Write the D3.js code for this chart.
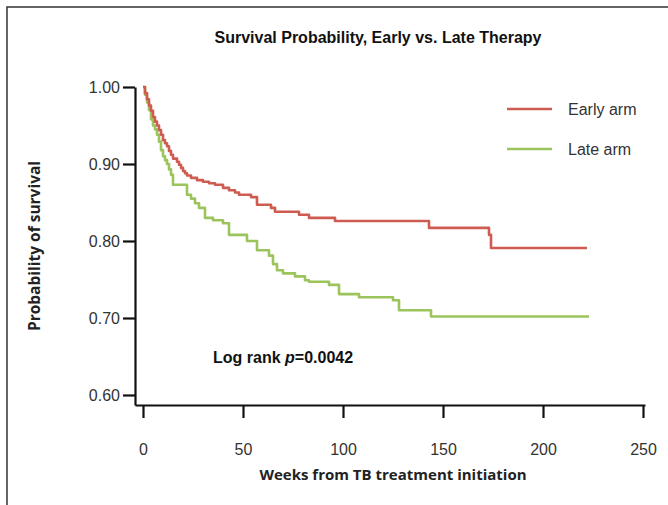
<!DOCTYPE html>
<html>
<head>
<meta charset="utf-8">
<script src="https://cdn.jsdelivr.net/npm/d3@7"></script>
<style>
  body { margin: 0; background: #fff; }
  text { font-family: "Liberation Sans", Arial, sans-serif; }
</style>
</head>
<body>
<div id="chart"></div>
<script>
// Kaplan-Meier steps (weeks, survival probability)
const earlyWeeks = [0, 1, 2, 3, 4, 5, 6, 7, 8, 9, 10, 11, 12, 13, 14, 15, 17, 18, 19, 20, 21, 22, 24, 27, 30, 33, 36, 40, 43, 46, 48, 54, 57, 64, 66, 78, 83, 96, 143, 173, 174, 222];
const earlySurv = [1.000, 0.992, 0.984, 0.976, 0.969, 0.961, 0.955, 0.950, 0.944, 0.938, 0.931, 0.927, 0.923, 0.917, 0.912, 0.907, 0.903, 0.899, 0.895, 0.891, 0.888, 0.885, 0.882, 0.879, 0.877, 0.875, 0.873, 0.869, 0.866, 0.863, 0.860, 0.857, 0.847, 0.843, 0.838, 0.834, 0.830, 0.826, 0.817, 0.808, 0.791, 0.791];

const lateWeeks = [0, 1, 2, 3, 4, 5, 6, 7, 8, 9, 10, 11, 12, 13, 14, 15, 22, 24, 26, 28, 31, 35, 40, 43, 52, 57, 63, 65, 67, 70, 76, 81, 83, 93, 98, 108, 125, 128, 144, 223];
const lateSurv = [1.000, 0.990, 0.980, 0.970, 0.958, 0.950, 0.945, 0.938, 0.929, 0.918, 0.910, 0.905, 0.900, 0.893, 0.886, 0.873, 0.860, 0.855, 0.849, 0.843, 0.830, 0.827, 0.823, 0.808, 0.800, 0.788, 0.781, 0.770, 0.762, 0.758, 0.754, 0.749, 0.747, 0.743, 0.731, 0.727, 0.723, 0.710, 0.702, 0.702];

const seriesNames = ["Early arm", "Late arm"];
const seriesColors = ["#cf5c50", "#9cc45c"];
const xTicks = [0, 50, 100, 150, 200, 250];
const yTicks = [1.0, 0.9, 0.8, 0.7, 0.6];

const W = 668, H = 505;

const svg = d3.select("#chart")
  .append("svg")
    .attr("width", W)
    .attr("height", H);

// page frame (top and left edges visible)
svg.append("path")
  .attr("d", "M7,505 L7,7 L668,7")
  .attr("fill", "none")
  .attr("stroke", "#333")
  .attr("stroke-width", 1.5);

const x = d3.scaleLinear().domain([-4, 251]).range([135, 645]);
const y = d3.scaleLinear().domain([0.587, 1.0]).range([405, 87]);

// axes
const xAxis = d3.axisBottom(x).tickValues(xTicks).tickSize(13).tickPadding(26).tickSizeOuter(0);
const yAxis = d3.axisLeft(y).tickValues(yTicks).tickSize(12).tickPadding(3).tickSizeOuter(0)
  .tickFormat(d3.format(".2f"));

const gx = svg.append("g").attr("transform", "translate(0,405)").call(xAxis);
const gy = svg.append("g").attr("transform", "translate(135,0)").call(yAxis);

[gx, gy].forEach(g => {
  g.select(".domain").attr("stroke", "#111").attr("stroke-width", 2.2);
  g.selectAll(".tick line").attr("stroke", "#111").attr("stroke-width", 2.2);
  g.selectAll(".tick text")
    .attr("fill", "#333")
    .style("font-size", "16px")
    .style("font-family", "'Liberation Sans', Arial, sans-serif");
});

// curves
const line = d3.line()
  .x(d => x(d[0]))
  .y(d => y(d[1]))
  .curve(d3.curveStepAfter);

const series = [
  d3.zip(earlyWeeks, earlySurv),
  d3.zip(lateWeeks, lateSurv)
];

// draw late first so the early arm sits on top
[1, 0].forEach(i => {
  svg.append("path")
    .datum(series[i])
    .attr("fill", "none")
    .attr("stroke", seriesColors[i])
    .attr("stroke-width", 2.6)
    .attr("stroke-linejoin", "round")
    .attr("d", line);
});

// legend
const legend = svg.append("g").attr("transform", "translate(507,109)");
seriesNames.forEach((name, i) => {
  const row = legend.append("g").attr("transform", `translate(0,${i * 40})`);
  row.append("line")
    .attr("x1", 0).attr("x2", 45)
    .attr("stroke", seriesColors[i])
    .attr("stroke-width", 2.6);
  row.append("text")
    .attr("x", 61)
    .attr("dy", "0.35em")
    .attr("fill", "#333")
    .style("font-size", "16px")
    .text(name);
});

// titles
svg.append("text")
  .attr("x", 378)
  .attr("y", 43)
  .attr("text-anchor", "middle")
  .attr("font-weight", "bold")
  .attr("fill", "#111")
  .style("font-size", "16px")
  .text("Survival Probability, Early vs. Late Therapy");

svg.append("text")
  .attr("x", 393)
  .attr("y", 480)
  .attr("text-anchor", "middle")
  .attr("font-weight", "bold")
  .attr("fill", "#222")
  .style("font-size", "15px")
  .style("font-family", "'Open Sans', sans-serif")
  .text("Weeks from TB treatment initiation");

svg.append("text")
  .attr("transform", "translate(40,246) rotate(-90)")
  .attr("text-anchor", "middle")
  .attr("font-weight", "bold")
  .attr("fill", "#222")
  .style("font-size", "15.5px")
  .style("font-family", "'Open Sans', sans-serif")
  .text("Probability of survival");

const note = svg.append("text")
  .attr("x", 213)
  .attr("y", 363)
  .attr("font-weight", "bold")
  .attr("fill", "#111")
  .style("font-size", "16px");
note.append("tspan").text("Log rank ");
note.append("tspan").attr("font-style", "italic").text("p");
note.append("tspan").text("=0.0042");
</script>
</body>
</html>
